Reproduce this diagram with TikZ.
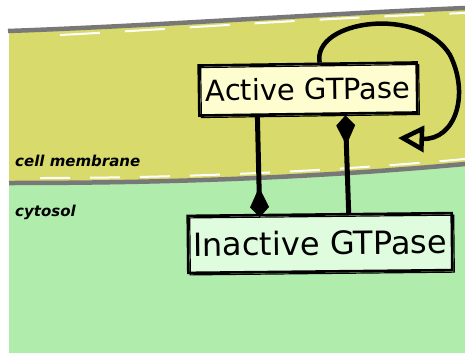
\documentclass[tikz,border=0pt]{standalone}
\usepackage{fontspec}
\setmainfont{DejaVu Sans}
\usepackage{tikz}
\usetikzlibrary{arrows.meta,positioning}
\usepackage{xcolor}
\definecolor{membrane}{RGB}{216,218,107}
\definecolor{cytosol}{RGB}{176,237,172}
\definecolor{activefill}{RGB}{253,253,208}
\definecolor{inactivefill}{RGB}{224,252,222}
\definecolor{edgegrey}{RGB}{120,120,120}
\tikzstyle{gtpbox} = [draw, line width=2.6pt, inner sep=0pt,
    postaction={draw, line width=1.2pt, transform canvas={xshift=2pt,yshift=-2pt}}]
\tikzstyle{switch} = [line width=5pt, -{Kite[length=30pt,width=19pt,inset=20pt]}]
\tikzstyle{regionlabel} = [font=\fontsize{15}{17}\selectfont\bfseries\itshape, anchor=base west, inner sep=0pt]

\begin{document}
\begin{tikzpicture}[x=1pt, y=-1pt]
\useasboundingbox (0,0) rectangle (465,353);
% Cytosol and membrane
\fill[cytosol] (9,181) .. controls (150,181) and (300,178) .. (465,163)
    -- (465,353) -- (9,353) -- cycle;
\fill[membrane] (9,31) .. controls (150,26) and (300,15) .. (465,8)
    -- (465,163) .. controls (300,178) and (150,181) .. (9,181) -- cycle;
\draw[edgegrey, line width=4.5pt] (8,31) .. controls (150,26) and (300,15) .. (465,8);
\draw[white, line width=2pt, dash pattern=on 40pt off 25pt] (60,35) .. controls (160,30) and (300,19) .. (465,13);
\draw[edgegrey, line width=4.5pt] (9,183) .. controls (150,183) and (300,179) .. (465,164);
\draw[white, line width=2pt, dash pattern=on 30pt off 20pt] (40,178) .. controls (150,178) and (300,174) .. (465,159);

% Region labels
\node[regionlabel] (memlabel) at (15,166) {cell membrane};
\node[regionlabel] (cytlabel) at (15,216) {cytosol};

% GTPase states
\node[gtpbox, fill=activefill, rotate=0.8, minimum width=218pt, minimum height=50pt,
    font=\fontsize{29}{34}\selectfont] (active) at (308,89) {Active GTPase};
\node[gtpbox, fill=inactivefill, rotate=0.6, minimum width=264pt, minimum height=57pt,
    font=\fontsize{32}{38}\selectfont] (inactive) at (320,243) {Inactive GTPase};

% Switching arrows
\coordinate (loopend) at (398,138);
\draw[switch, shorten >=-4pt] ([xshift=-51pt]active.south) -- ([xshift=-60pt]inactive.north);
\draw[switch] ([xshift=29pt]inactive.north) -- ([xshift=37pt]active.south);
\draw[line width=4.5pt, -{Triangle[open,length=26pt,width=26pt]}]
    ([xshift=12pt]active.north) .. controls (312,20) and (420,5) .. (450,55)
    .. controls (470,95) and (455,140) .. (loopend);
\end{tikzpicture}
\end{document}
